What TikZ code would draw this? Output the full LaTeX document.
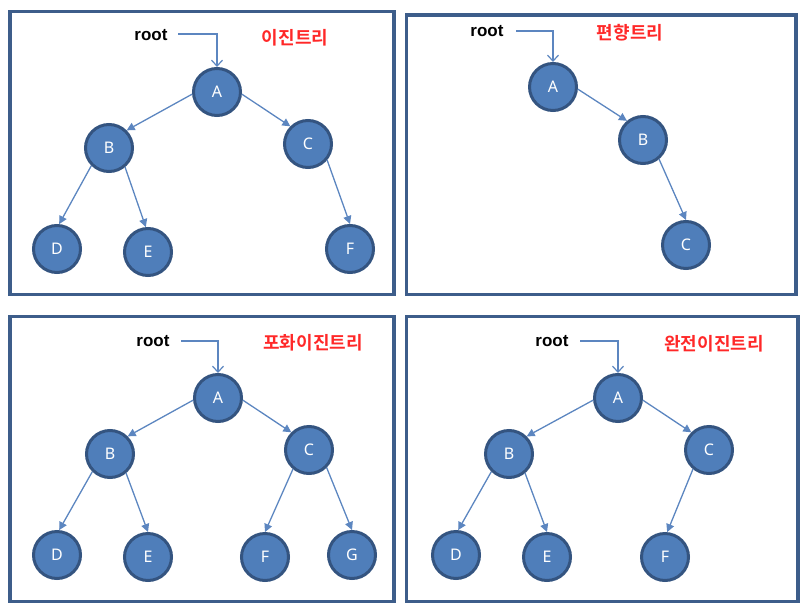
\documentclass[tikz,border=0pt]{standalone}
\usepackage{fontspec}
\setmainfont{Liberation Sans}
\newfontfamily\kofont{Noto Sans CJK KR}[BoldFont={* Bold}]
\newfontfamily\lettfont{Noto Sans}
\usetikzlibrary{arrows.meta}
\definecolor{framec}{RGB}{61,93,138}
\definecolor{nodefill}{RGB}{79,126,186}
\definecolor{nodeline}{RGB}{52,84,128}
\definecolor{edgec}{RGB}{92,134,192}
\definecolor{titlered}{RGB}{255,40,40}
\tikzset{
  panel/.style={draw=framec, line width=3.5pt},
  tnode/.style={circle, fill=nodefill, draw=nodeline, line width=3pt, minimum size=47pt, inner sep=0pt, text=white, font=\lettfont\fontsize{16}{16}\selectfont},
  edge/.style={draw=edgec, line width=1.3pt, -{Triangle[length=8pt,width=8pt]}},
  rootarrow/.style={draw=edgec, line width=1.2pt, -{Straight Barb[length=6pt,width=11pt]}},
  roottext/.style={font=\bfseries\fontsize{17}{17}\selectfont, inner sep=0pt},
  title/.style={font=\kofont\bfseries\fontsize{18}{18}\selectfont, text=titlered, inner sep=0pt}
}
\begin{document}
\begin{tikzpicture}[x=1pt,y=-1pt]
\useasboundingbox (0,0) rectangle (808,610);
% frames
\draw[panel] (10,11.5) rectangle (394,294.5);
\draw[panel] (406.5,15) rectangle (796,294.5);
\draw[panel] (10,316.5) rectangle (394,601.5);
\draw[panel] (406.5,316.5) rectangle (798,601.5);

% ---------- panel 1: 이진트리
\node[title] (t1) at (295,38) {이진트리};
\node[roottext] (r1) at (151,35) {root};
\coordinate (r1s) at (178,34);
\node[tnode] (a1) at (217,92) {A};
\node[tnode] (b1) at (109,148) {B};
\node[tnode] (c1) at (308,144) {C};
\node[tnode] (d1) at (57,249) {D};
\node[tnode] (e1) at (148,252) {E};
\node[tnode] (f1) at (350,249) {F};
\draw[rootarrow] (r1s) -| (a1.north);
\draw[edge] (a1.185) -- (b1.45);
\draw[edge] (a1.-5) -- (c1.135);
\draw[edge] (b1.225) -- (d1.85);
\draw[edge] (b1.-50) -- (e1.95);
\draw[edge] (c1.-40) -- (f1.90);

% ---------- panel 2: 편향트리
\node[title] (t2) at (630,33) {편향트리};
\node[roottext] (r2) at (487,31) {root};
\coordinate (r2s) at (516,31);
\node[tnode] (a2) at (553,87) {A};
\node[tnode] (b2) at (643,140) {B};
\node[tnode] (c2) at (686,245) {C};
\draw[rootarrow] (r2s) -| (a2.north);
\draw[edge] (a2.-5) -- (b2.130);
\draw[edge] (b2.-50) -- (c2.90);

% ---------- panel 3: 포화이진트리
\node[title] (t3) at (313,343) {포화이진트리};
\node[roottext] (r3) at (153,341) {root};
\coordinate (r3s) at (181,341);
\node[tnode] (a3) at (218,398) {A};
\node[tnode] (b3) at (110,454) {B};
\node[tnode] (c3) at (309,450) {C};
\node[tnode] (d3) at (57,555) {D};
\node[tnode] (e3) at (148,557) {E};
\node[tnode] (f3) at (265,557) {F};
\node[tnode] (g3) at (352,555) {G};
\draw[rootarrow] (r3s) -| (a3.north);
\draw[edge] (a3.185) -- (b3.45);
\draw[edge] (a3.-5) -- (c3.135);
\draw[edge] (b3.225) -- (d3.85);
\draw[edge] (b3.-50) -- (e3.90);
\draw[edge] (c3.230) -- (f3.90);
\draw[edge] (c3.-45) -- (g3.90);

% ---------- panel 4: 완전이진트리
\node[title] (t4) at (714,344) {완전이진트리};
\node[roottext] (r4) at (552,341) {root};
\coordinate (r4s) at (580,341);
\node[tnode] (a4) at (618,398) {A};
\node[tnode] (b4) at (509,454) {B};
\node[tnode] (c4) at (709,450) {C};
\node[tnode] (d4) at (456,555) {D};
\node[tnode] (e4) at (547,557) {E};
\node[tnode] (f4) at (665,557) {F};
\draw[rootarrow] (r4s) -| (a4.north);
\draw[edge] (a4.185) -- (b4.45);
\draw[edge] (a4.-5) -- (c4.135);
\draw[edge] (b4.225) -- (d4.85);
\draw[edge] (b4.-50) -- (e4.90);
\draw[edge] (c4.230) -- (f4.85);
\end{tikzpicture}
\end{document}
